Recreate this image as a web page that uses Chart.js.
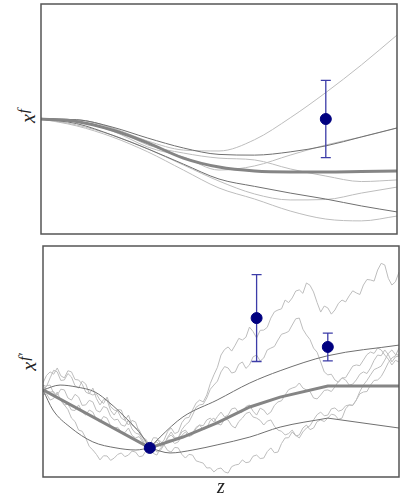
<!DOCTYPE html>
<html>
<head>
<meta charset="utf-8">
<script src="https://cdn.jsdelivr.net/npm/chart.js@4"></script>
<style>
  html, body { margin: 0; padding: 0; background: #fff; width: 403px; height: 496px; overflow: hidden; }
  canvas { position: absolute; }
  .lab { position: absolute; font: italic 20px "Liberation Serif", "DejaVu Serif", serif; color: #222;
         white-space: nowrap; transform: translate(-50%, -50%); line-height: 1; }
  .rot { transform: translate(-50%, -50%) rotate(-90deg); }
  .lab .up { font-size: 15px; position: relative; top: -0.45em; margin-left: 1px; }
</style>
</head>
<body>
<canvas id="top" width="360" height="234" style="left:39px;top:2px"></canvas>
<canvas id="bottom" width="360" height="235" style="left:41px;top:244px"></canvas>
<div class="lab rot" style="left:28px;top:116px">x<span class="up">f</span></div>
<div class="lab rot" style="left:29px;top:362px">x<span class="up">f&prime;</span></div>
<div class="lab" style="left:221px;top:486px">z</div>
<script>
// ---- top panel: smooth sample curves ----
const zTop = [0, 1, 2, 3, 4, 5, 6, 7, 8, 9, 10];
const topMean  = [0, -0.11, -0.48, -1.04, -1.70, -2.09, -2.26, -2.30, -2.30, -2.28, -2.26];
const topDark1 = [0, -0.03, -0.35, -0.83, -1.26, -1.54, -1.57, -1.43, -1.17, -0.78, -0.39];
const topDark2 = [0, -0.20, -0.70, -1.30, -1.96, -2.61, -2.93, -3.22, -3.48, -3.78, -4.04];
const topLight1 = [0, -0.03, -0.39, -0.96, -1.35, -1.39, -0.90, 0.05, 1.15, 2.35, 3.65];
const topLight2 = [0, -0.03, -0.39, -1.13, -1.48, -1.70, -1.78, -2.17, -2.48, -2.72, -2.65];
const topLight3 = [0, -0.11, -0.52, -1.22, -1.65, -2.22, -2.04, -1.57, -1.13, -0.78, -0.39];
const topLight4 = [0, -0.26, -0.70, -1.30, -2.00, -2.70, -3.26, -3.52, -3.50, -3.22, -2.96];
const topLight5 = [0, -0.30, -0.78, -1.43, -2.22, -3.00, -3.48, -4.00, -4.35, -4.43, -4.22];
const topObsZ = [8];
const topObsY = [0];
const topObsErr = [1.68];

// ---- bottom panel: noisy sample paths on a 0.1 grid ----
const zFine = Array.from({ length: 101 }, (_, i) => +(i * 0.1).toFixed(1));
const pathA = [3.98, 3.92, 4.29, 4.62, 4.55, 4.18, 4.20, 4.48, 4.33, 3.95, 3.85, 4.15, 4.03, 3.62, 3.55, 3.60,
  3.33, 3.18, 3.46, 3.05, 2.90, 2.85, 2.55, 2.45, 2.68, 2.25, 2.12, 2.05, 1.73, 1.42, 1.39, 1.70, 1.69, 1.42,
  1.60, 1.96, 2.12, 1.88, 1.95, 2.35, 2.55, 2.58, 2.90, 3.20, 3.33, 3.25, 3.55, 4.05, 4.42, 4.75, 5.28, 5.52,
  5.63, 5.45, 5.71, 6.00, 5.93, 6.05, 6.49, 6.30, 6.02, 6.35, 6.36, 6.48, 6.88, 7.15, 7.23, 7.28, 7.66, 7.55,
  7.75, 8.05, 8.10, 7.95, 8.40, 8.30, 8.01, 7.55, 7.14, 7.40, 7.32, 7.05, 7.23, 7.52, 7.66, 7.58, 7.84, 8.06,
  7.97, 7.90, 8.31, 8.55, 8.53, 8.48, 8.96, 9.25, 9.18, 8.60, 8.31, 8.45, 8.87];
const pathB = [3.68, 3.95, 3.98, 3.62, 3.55, 3.80, 3.77, 3.42, 3.33, 3.58, 3.46, 3.10, 3.12, 3.32, 3.25, 2.88,
  2.81, 3.05, 2.99, 2.62, 2.47, 2.50, 2.25, 2.20, 2.47, 2.08, 1.90, 1.85, 1.60, 1.28, 1.17, 1.45, 1.52, 1.32,
  1.39, 1.72, 1.95, 1.70, 1.69, 2.05, 2.25, 2.38, 2.68, 3.02, 3.12, 3.15, 3.42, 3.80, 3.98, 4.15, 4.55, 4.78,
  4.72, 4.50, 4.55, 4.88, 4.98, 4.70, 4.85, 5.20, 5.28, 5.02, 5.15, 5.50, 5.58, 5.65, 5.93, 6.18, 6.23, 6.30,
  6.58, 6.85, 6.88, 6.40, 6.15, 5.95, 5.58, 5.40, 4.98, 4.55, 4.42, 4.45, 4.20, 4.10, 4.29, 4.20, 3.98, 4.02,
  4.20, 4.45, 4.55, 4.48, 4.72, 5.05, 5.28, 5.25, 5.50, 5.30, 4.98, 5.20, 5.24];
const pathC = [4.07, 4.40, 4.55, 4.45, 4.72, 4.38, 4.29, 4.60, 4.55, 4.22, 4.20, 4.02, 3.68, 3.60, 3.85, 3.40,
  3.12, 3.35, 3.33, 2.88, 2.68, 2.92, 2.90, 2.48, 2.25, 2.45, 2.38, 1.95, 1.69, 1.62, 1.30, 1.25, 1.08, 1.15,
  1.39, 1.60, 1.60, 1.45, 1.52, 1.80, 1.95, 1.75, 1.82, 2.10, 2.25, 2.22, 2.47, 2.55, 2.38, 2.62, 2.81, 2.60,
  2.68, 2.95, 2.99, 2.78, 2.81, 3.05, 3.12, 2.85, 2.68, 2.98, 2.90, 2.70, 2.81, 3.10, 3.25, 3.30, 3.55, 3.78,
  3.85, 3.90, 4.07, 3.85, 3.77, 3.70, 3.42, 3.38, 3.55, 3.75, 3.77, 3.70, 3.90, 4.15, 4.29, 4.30, 4.55, 4.80,
  4.85, 4.82, 5.06, 5.30, 5.41, 5.35, 5.58, 5.50, 5.28, 5.10, 4.85, 5.05, 4.98];
const pathD = [3.55, 3.60, 3.33, 3.40, 3.68, 3.30, 3.12, 3.15, 2.90, 2.88, 3.12, 2.82, 2.68, 2.90, 2.81, 2.50,
  2.38, 2.62, 2.55, 2.22, 2.12, 2.15, 1.95, 1.92, 2.12, 1.80, 1.69, 1.75, 1.52, 1.25, 1.26, 1.02, 0.95, 1.25,
  1.39, 1.15, 1.08, 1.28, 1.26, 0.98, 0.82, 0.98, 0.95, 0.70, 0.65, 0.60, 0.39, 0.40, 0.22, 0.35, 0.39, 0.22,
  0.17, 0.45, 0.52, 0.55, 0.74, 0.62, 0.65, 0.90, 0.95, 0.80, 0.82, 1.10, 1.26, 1.05, 1.08, 1.45, 1.69, 1.70,
  1.95, 1.78, 1.82, 2.12, 2.25, 2.05, 2.12, 2.40, 2.47, 2.40, 2.55, 2.72, 2.68, 2.50, 2.55, 2.95, 3.12, 3.10,
  3.33, 3.60, 3.68, 3.70, 3.98, 4.18, 4.20, 4.35, 4.63, 4.95, 5.15, 5.25, 5.58];
const pathE = [3.98, 3.72, 3.68, 3.70, 3.42, 3.35, 3.12, 2.92, 2.55, 2.40, 2.03, 1.98, 1.69, 1.32, 1.17, 0.98,
  0.74, 0.92, 0.91, 0.72, 0.82, 0.98, 1.04, 0.88, 0.95, 1.12, 1.08, 0.88, 0.91, 1.15, 1.26, 1.35, 1.60, 1.55,
  1.39, 1.70, 1.82, 1.65, 1.69, 1.95, 2.03, 1.85, 1.90, 2.15, 2.25, 2.05, 2.12, 2.45, 2.55, 2.30, 2.25, 2.50,
  2.47, 2.22, 2.12, 2.40, 2.55, 2.75, 2.81, 2.60, 2.55, 2.45, 2.25, 2.42, 2.47, 2.20, 2.03, 1.98, 1.82, 1.88,
  2.03, 1.80, 1.69, 1.95, 2.12, 2.22, 2.47, 2.70, 2.81, 2.65, 2.68, 2.95, 2.99, 2.85, 2.90, 3.08, 3.12, 3.10,
  3.33, 3.70, 3.98, 4.18, 4.42, 4.65, 4.72, 4.80, 5.06, 5.35, 5.50, 5.30, 5.28];

const meanZ = [0, 3, 3.93, 4.89, 5.81, 6.66, 8, 10];
const meanY = [3.77, 1.26, 1.73, 2.34, 3.03, 3.46, 3.94, 3.94];
const upLeftZ = [0, 0.48, 0.93, 1.46, 1.88, 2.33, 2.81, 3];
const upLeftY = [3.77, 3.98, 3.90, 3.68, 3.20, 2.55, 1.73, 1.26];
const upRightZ = [3, 3.29, 3.93, 4.89, 5.81, 6.66, 8, 10];
const upRightY = [1.26, 1.73, 2.60, 3.33, 4.07, 4.60, 5.25, 5.71];
const lowLeftZ = [0, 0.28, 0.76, 1.40, 2.05, 2.61, 3];
const lowLeftY = [3.77, 2.90, 2.16, 1.52, 1.26, 1.17, 1.26];
const lowRightZ = [3, 3.57, 4.21, 4.89, 5.81, 6.66, 8];
const lowRightY = [1.26, 1.04, 1.17, 1.39, 1.73, 2.16, 2.55];
const lowTailZ = [8, 10];
const lowTailY = [2.55, 2.12];
const obsZ = [3, 6, 8];
const obsY = [1.26, 6.88, 5.63];
const obsErr = [0, 1.88, 0.6];

const zip = (xs, ys) => xs.map((x, i) => ({ x, y: ys[i] }));
const LIGHT = '#bdbdbd', DARK = '#707070', MEAN = '#858585', NAVY = '#000080';

function line(xs, ys, color, width, order, smooth) {
  return {
    data: zip(xs, ys), borderColor: color, borderWidth: width, pointRadius: 0, order,
    cubicInterpolationMode: smooth ? 'monotone' : 'default', tension: 0, fill: false
  };
}
function obs(xs, ys, errs) {
  return {
    data: zip(xs, ys), errors: errs, showLine: false, pointRadius: 5.5,
    pointBackgroundColor: NAVY, pointBorderColor: NAVY, borderColor: NAVY, order: 0
  };
}

// box around the plot area
const frame = {
  id: 'frame',
  afterDraw(chart) {
    const { ctx, chartArea: a } = chart;
    ctx.save();
    ctx.strokeStyle = '#555';
    ctx.lineWidth = 1.5;
    ctx.strokeRect(a.left, a.top, a.right - a.left, a.bottom - a.top);
    ctx.restore();
  }
};

// error bars, drawn just under the observation markers
const errorBars = {
  id: 'errorBars',
  beforeDatasetDraw(chart, args) {
    const ds = chart.data.datasets[args.index];
    if (!ds.errors) return;
    const { ctx, scales: { x, y } } = chart;
    ctx.save();
    ctx.strokeStyle = '#3c3ca8';
    ctx.lineWidth = 1.3;
    ds.data.forEach((p, i) => {
      const e = ds.errors[i];
      if (!e) return;
      const px = x.getPixelForValue(p.x);
      const y1 = y.getPixelForValue(p.y + e), y2 = y.getPixelForValue(p.y - e);
      ctx.beginPath();
      ctx.moveTo(px, y1); ctx.lineTo(px, y2);
      ctx.moveTo(px - 5, y1); ctx.lineTo(px + 5, y1);
      ctx.moveTo(px - 5, y2); ctx.lineTo(px + 5, y2);
      ctx.stroke();
    });
    ctx.restore();
  }
};

function makeChart(id, datasets, ymin, ymax) {
  return new Chart(document.getElementById(id), {
    type: 'line',
    data: { datasets },
    options: {
      responsive: false, animation: false, events: [],
      layout: { padding: 2, autoPadding: false },
      plugins: { legend: { display: false }, tooltip: { enabled: false } },
      scales: {
        x: { type: 'linear', min: 0, max: 10, display: false },
        y: { min: ymin, max: ymax, display: false }
      }
    },
    plugins: [errorBars, frame]
  });
}

makeChart('top', [
  line(zTop, topLight1, LIGHT, 1, 4, true),
  line(zTop, topLight2, LIGHT, 1, 4, true),
  line(zTop, topLight3, LIGHT, 1, 4, true),
  line(zTop, topLight4, LIGHT, 1, 4, true),
  line(zTop, topLight5, LIGHT, 1, 4, true),
  line(zTop, topDark1, DARK, 1, 3, true),
  line(zTop, topDark2, DARK, 1, 3, true),
  line(zTop, topMean, MEAN, 3, 2, true),
  obs(topObsZ, topObsY, topObsErr)
], -5, 5);

makeChart('bottom', [
  line(zFine, pathA, LIGHT, 1, 4, false),
  line(zFine, pathB, LIGHT, 1, 4, false),
  line(zFine, pathC, LIGHT, 1, 4, false),
  line(zFine, pathD, LIGHT, 1, 4, false),
  line(zFine, pathE, LIGHT, 1, 4, false),
  line(upLeftZ, upLeftY, DARK, 1, 3, true),
  line(upRightZ, upRightY, DARK, 1, 3, true),
  line(lowLeftZ, lowLeftY, DARK, 1, 3, true),
  line(lowRightZ, lowRightY, DARK, 1, 3, true),
  line(lowTailZ, lowTailY, DARK, 1, 3, false),
  line(meanZ, meanY, MEAN, 3, 2, false),
  obs(obsZ, obsY, obsErr)
], 0, 10);
</script>
</body>
</html>
